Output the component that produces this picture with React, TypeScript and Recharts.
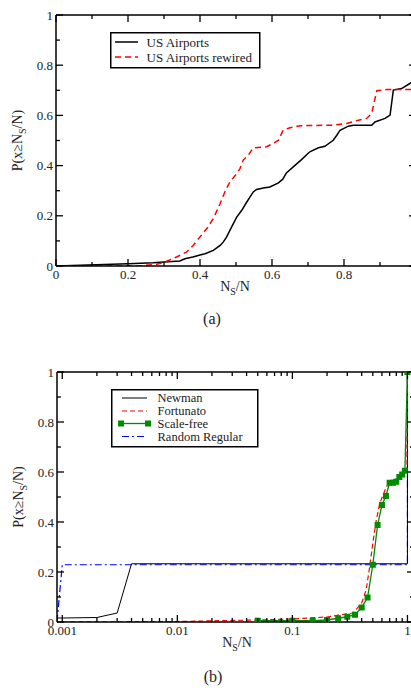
import React from 'react'
import { LineChart, Line, XAxis, YAxis } from 'recharts'

// (a) US airports
const airportsX = [0, 0.2, 0.27, 0.3, 0.344, 0.358, 0.38, 0.4, 0.414, 0.437, 0.456, 0.465, 0.474, 0.488, 0.502, 0.516, 0.53, 0.548, 0.557, 0.576, 0.594, 0.618, 0.63, 0.64, 0.659, 0.682, 0.705, 0.729, 0.747, 0.77, 0.78, 0.789, 0.812, 0.826, 0.877, 0.886, 0.914, 0.928, 0.937, 0.96, 0.986, 1]
const airportsY = [0, 0.009, 0.013, 0.016, 0.02, 0.029, 0.036, 0.044, 0.049, 0.062, 0.082, 0.096, 0.116, 0.156, 0.195, 0.222, 0.255, 0.295, 0.305, 0.311, 0.315, 0.331, 0.346, 0.371, 0.395, 0.424, 0.455, 0.471, 0.477, 0.501, 0.521, 0.541, 0.557, 0.561, 0.561, 0.574, 0.588, 0.601, 0.701, 0.707, 0.73, 0.74]
const rewiredX = [0, 0.122, 0.233, 0.28, 0.298, 0.335, 0.363, 0.381, 0.4, 0.419, 0.437, 0.456, 0.469, 0.483, 0.502, 0.511, 0.52, 0.534, 0.548, 0.585, 0.603, 0.618, 0.631, 0.65, 0.678, 0.77, 0.807, 0.84, 0.863, 0.877, 0.891, 0.919, 1]
const rewiredY = [0, 0, 0, 0.007, 0.013, 0.036, 0.056, 0.082, 0.116, 0.149, 0.189, 0.249, 0.295, 0.335, 0.368, 0.388, 0.422, 0.441, 0.471, 0.475, 0.488, 0.501, 0.541, 0.551, 0.559, 0.561, 0.568, 0.581, 0.588, 0.608, 0.698, 0.703, 0.703]

// (b) models
const newmanX = [0.0009, 0.001, 0.002, 0.003, 0.004, 1, 1]
const newmanY = [0.016, 0.016, 0.018, 0.036, 0.233, 0.233, 1]
const fortunatoX = [0.001, 0.01, 0.05, 0.1, 0.2, 0.337, 0.4, 0.438, 0.47, 0.5, 0.536, 0.575, 0.655, 0.7, 0.86, 0.99, 1]
const fortunatoY = [0, 0.002, 0.008, 0.012, 0.02, 0.036, 0.076, 0.129, 0.222, 0.315, 0.408, 0.475, 0.54, 0.56, 0.58, 0.61, 1]
const scaleFreeX = [0.05, 0.1, 0.15, 0.2, 0.25, 0.3, 0.35, 0.4, 0.45, 0.5, 0.55, 0.6, 0.65, 0.7, 0.75, 0.8, 0.85, 0.9, 0.95, 1]
const scaleFreeY = [0.005, 0.005, 0.005, 0.008, 0.015, 0.021, 0.029, 0.058, 0.098, 0.229, 0.388, 0.468, 0.504, 0.557, 0.557, 0.561, 0.58, 0.59, 0.605, 1]
const regularX = [0.0009, 0.001, 1, 1]
const regularY = [0, 0.229, 0.229, 1]

const linTicks = [0, 0.1, 0.2, 0.3, 0.4, 0.5, 0.6, 0.7, 0.8, 0.9, 1]
const logMajor = [0.001, 0.01, 0.1, 1]
const logMinor = [0.002, 0.003, 0.004, 0.005, 0.006, 0.007, 0.008, 0.009, 0.02, 0.03, 0.04, 0.05, 0.06, 0.07, 0.08, 0.09, 0.2, 0.3, 0.4, 0.5, 0.6, 0.7, 0.8, 0.9]
const logTicks = [...logMajor, ...logMinor].sort((a, b) => a - b)

const zip = (xs: number[], ys: number[]) => xs.map((x, i) => ({ x, y: ys[i] }))

const FONT = '"Liberation Serif", "DejaVu Serif", serif'
const TXT = '#222'

const linMajor = (v: number) => Math.round(v * 10) % 2 === 0
const isLogMajor = (v: number) => logMajor.includes(v)

const tickFn = (side: string, major: (v: number) => boolean, label: boolean, hide: number[] = []) => (p: any) => {
  const { x, y, payload } = p
  const v = payload.value
  const m = major(v)
  const len = m ? 7 : 4
  const show = label && m && !hide.includes(v)
  let line
  if (side === 'bottom') line = <line x1={x} y1={y} x2={x} y2={y - len} />
  else if (side === 'top') line = <line x1={x} y1={y} x2={x} y2={y + len} />
  else if (side === 'left') line = <line x1={x} y1={y} x2={x + len} y2={y} />
  else line = <line x1={x} y1={y} x2={x - len} y2={y} />
  return (
    <g>
      <g stroke="#000" strokeWidth={1.3}>{line}</g>
      {show && side === 'bottom' && (
        <text x={x} y={y + 13} textAnchor="middle" fontFamily={FONT} fontSize={13} fill={TXT}>{String(v)}</text>
      )}
      {show && side === 'left' && (
        <text x={x - 3} y={y + 4.5} textAnchor="end" fontFamily={FONT} fontSize={13} fill={TXT}>{String(v)}</text>
      )}
    </g>
  )
}

const yLabel = (vb: any) => {
  const cx = vb.x + vb.width - 34
  const cy = vb.y + vb.height / 2
  return (
    <text x={cx} y={cy} transform={`rotate(-90 ${cx} ${cy})`} textAnchor="middle" fontFamily={FONT} fontSize={14} fill={TXT}>
      <tspan>P(x≥N</tspan>
      <tspan dy={4} fontSize={10}>S</tspan>
      <tspan dy={-4}>/N)</tspan>
    </text>
  )
}

const xLabel = (vb: any, cx: number) => {
  const y = vb.y + 25
  return (
    <text x={cx} y={y} textAnchor="middle" fontFamily={FONT} fontSize={14} fill={TXT}>
      <tspan>N</tspan>
      <tspan dy={4} fontSize={10}>S</tspan>
      <tspan dy={-4}>/N</tspan>
    </text>
  )
}

const axisLine = { stroke: '#000', strokeWidth: 1.5 }

const square = (color: string) => (p: any) => (
  <rect key={`sq${p.index}`} x={p.cx - 3} y={p.cy - 3} width={6} height={6} fill={color} />
)

export default function App() {
  const green = '#008b00'
  return (
    <div style={{ position: 'absolute', left: 0, top: 0, width: 411, height: 693, overflow: 'hidden', background: '#fff' }}>
      <div style={{ position: 'absolute', left: 0, top: 0 }}>
        <LineChart width={430} height={300} margin={{ top: 14, right: 13, bottom: 33, left: 55 }}>
          <XAxis dataKey="x" type="number" domain={[0, 1]} allowDataOverflow ticks={linTicks} interval={0}
            height={1} tickSize={0} tickMargin={0} tickLine={false} axisLine={axisLine}
            tick={tickFn('bottom', linMajor, true, [1])}
            label={{ content: (p: any) => xLabel(p.viewBox, 235) }} />
          <XAxis xAxisId="t" orientation="top" dataKey="x" type="number" domain={[0, 1]} allowDataOverflow ticks={linTicks} interval={0}
            height={1} tickSize={0} tickMargin={0} tickLine={false} axisLine={axisLine}
            tick={tickFn('top', linMajor, false)} />
          <YAxis type="number" domain={[0, 1]} allowDataOverflow ticks={linTicks} interval={0}
            width={1} tickSize={0} tickMargin={0} tickLine={false} axisLine={axisLine}
            tick={tickFn('left', linMajor, true)}
            label={{ content: (p: any) => yLabel(p.viewBox) }} />
          <YAxis yAxisId="r" orientation="right" type="number" domain={[0, 1]} allowDataOverflow ticks={linTicks} interval={0}
            width={1} tickSize={0} tickMargin={0} tickLine={false} axisLine={axisLine}
            tick={tickFn('right', linMajor, false)} />
          <Line data={zip(airportsX, airportsY)} dataKey="y" type="linear" stroke="#000" strokeWidth={1.5} dot={false} isAnimationActive={false} />
          <Line data={zip(rewiredX, rewiredY)} dataKey="y" type="linear" stroke="#ff0000" strokeWidth={1.5} strokeDasharray="6 4" dot={false} isAnimationActive={false} />
        </LineChart>
      </div>

      <svg style={{ position: 'absolute', left: 110, top: 32 }} width={151} height={37}>
        <rect x={0.75} y={0.75} width={149} height={35} fill="#fff" stroke="#000" strokeWidth={1.5} />
        <line x1={5} y1={10} x2={28} y2={10} stroke="#000" strokeWidth={1.5} />
        <line x1={5} y1={25} x2={28} y2={25} stroke="#ff0000" strokeWidth={1.5} strokeDasharray="6 4" />
        <text x={36.5} y={14.5} fontFamily={FONT} fontSize={13} fill={TXT}>US Airports</text>
        <text x={36.5} y={29.5} fontFamily={FONT} fontSize={13} fill={TXT}>US Airports rewired</text>
      </svg>

      <div style={{ position: 'absolute', left: 0, top: 310, width: 424, textAlign: 'center', fontFamily: FONT, fontSize: 16, color: TXT }}>(a)</div>

      <div style={{ position: 'absolute', left: 0, top: 340 }}>
        <LineChart width={430} height={330} margin={{ top: 31, right: 15, bottom: 47, left: 56 }}>
          <XAxis dataKey="x" type="number" scale="log" domain={[0.0009, 1.14]} allowDataOverflow ticks={logTicks} interval={0}
            height={1} tickSize={0} tickMargin={0} tickLine={false} axisLine={axisLine}
            tick={tickFn('bottom', isLogMajor, true)}
            label={{ content: (p: any) => xLabel(p.viewBox, 237) }} />
          <XAxis xAxisId="t" orientation="top" dataKey="x" type="number" scale="log" domain={[0.0009, 1.14]} allowDataOverflow ticks={logTicks} interval={0}
            height={1} tickSize={0} tickMargin={0} tickLine={false} axisLine={axisLine}
            tick={tickFn('top', isLogMajor, false)} />
          <YAxis type="number" domain={[0, 1]} allowDataOverflow ticks={linTicks} interval={0}
            width={1} tickSize={0} tickMargin={0} tickLine={false} axisLine={axisLine}
            tick={tickFn('left', linMajor, true)}
            label={{ content: (p: any) => yLabel(p.viewBox) }} />
          <YAxis yAxisId="r" orientation="right" type="number" domain={[0, 1]} allowDataOverflow ticks={linTicks} interval={0}
            width={1} tickSize={0} tickMargin={0} tickLine={false} axisLine={axisLine}
            tick={tickFn('right', linMajor, false)} />
          <Line data={zip(regularX, regularY)} dataKey="y" type="linear" stroke="#0000ff" strokeWidth={1.2} strokeDasharray="7 3 2 3" dot={false} isAnimationActive={false} />
          <Line data={zip(newmanX, newmanY)} dataKey="y" type="linear" stroke="#000" strokeWidth={1} dot={false} isAnimationActive={false} />
          <Line data={zip(fortunatoX, fortunatoY)} dataKey="y" type="linear" stroke="#ff0000" strokeWidth={1.2} strokeDasharray="5 3" dot={false} isAnimationActive={false} />
          <Line data={zip(scaleFreeX, scaleFreeY)} dataKey="y" type="linear" stroke={green} strokeWidth={1.3} dot={square(green)} isAnimationActive={false} />
        </LineChart>
      </div>

      <svg style={{ position: 'absolute', left: 111, top: 389 }} width={149} height={60}>
        <rect x={0.75} y={0.75} width={146} height={57} fill="#fff" stroke="#000" strokeWidth={1.5} />
        <line x1={11} y1={9} x2={36} y2={9} stroke="#000" strokeWidth={1} />
        <line x1={11} y1={22} x2={36} y2={22} stroke="#ff0000" strokeWidth={1.2} strokeDasharray="5 3" />
        <line x1={10} y1={34.5} x2={37} y2={34.5} stroke={green} strokeWidth={1.3} />
        <rect x={7} y={31.5} width={6} height={6} fill={green} />
        <rect x={34} y={31.5} width={6} height={6} fill={green} />
        <line x1={11} y1={47.5} x2={36} y2={47.5} stroke="#0000ff" strokeWidth={1.2} strokeDasharray="7 3 2 3" />
        <text x={46.5} y={13} fontFamily={FONT} fontSize={12.5} fill={TXT}>Newman</text>
        <text x={46.5} y={26} fontFamily={FONT} fontSize={12.5} fill={TXT}>Fortunato</text>
        <text x={46.5} y={38.5} fontFamily={FONT} fontSize={12.5} fill={TXT}>Scale-free</text>
        <text x={46.5} y={52} fontFamily={FONT} fontSize={12.5} fill={TXT}>Random Regular</text>
      </svg>

      <div style={{ position: 'absolute', left: 0, top: 668, width: 426, textAlign: 'center', fontFamily: FONT, fontSize: 16, color: TXT }}>(b)</div>
    </div>
  )
}
